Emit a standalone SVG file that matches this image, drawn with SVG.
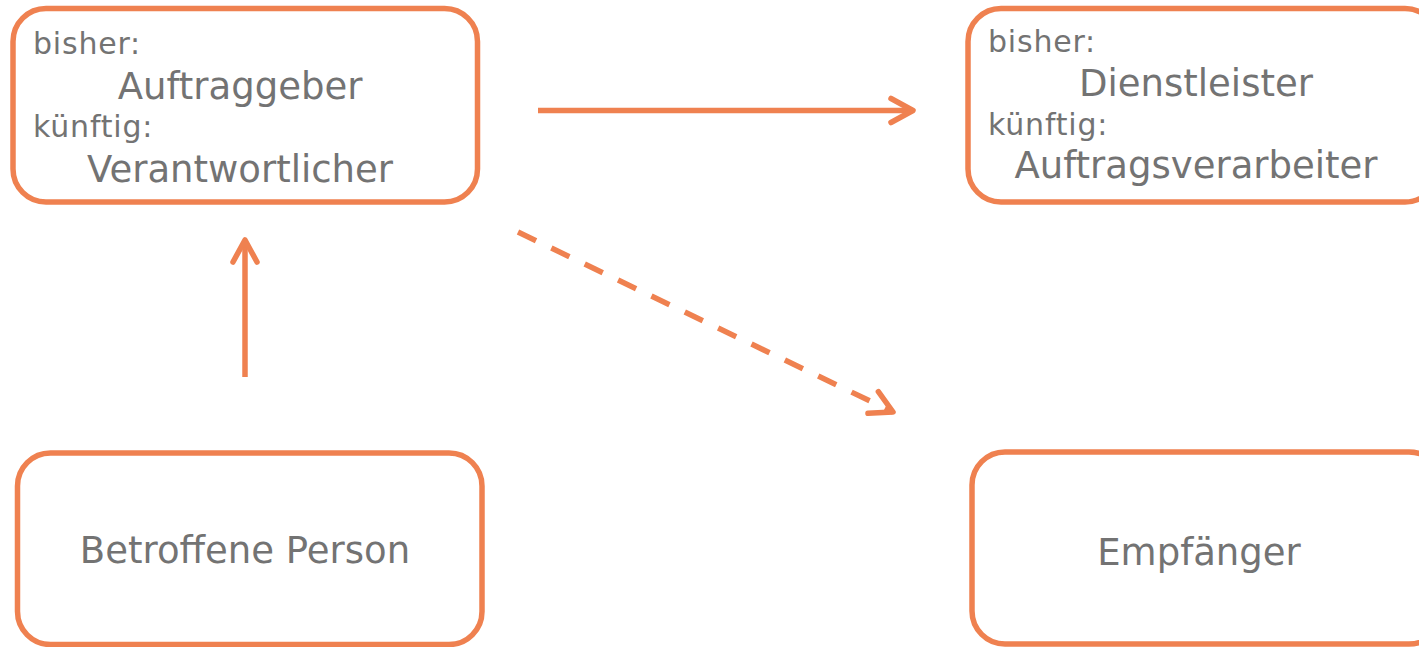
<svg xmlns="http://www.w3.org/2000/svg" width="1419" height="647" viewBox="0 0 1419 647">
<style>
.box{fill:#fff;stroke:#EF8150;stroke-width:5.5}
.t{font-family:"DejaVu Sans","Verdana",sans-serif;fill:#737373}
.s{font-size:30px;letter-spacing:0.8px}
.l{font-size:37px;text-anchor:middle}
.c{fill:none;stroke:#EF8150;stroke-width:5.5}
</style>
<defs>
<marker id="arr" markerUnits="userSpaceOnUse" orient="auto" refX="0" refY="0" markerWidth="40" markerHeight="40" overflow="visible">
<path d="M-22,-12 L0,0 L-22,12" fill="none" stroke="#EF8150" stroke-width="5.5" stroke-linecap="round" stroke-linejoin="round"/>
</marker>
</defs>
<rect width="1419" height="647" fill="#fff"/>
<g id="node-verantwortlicher">
<rect class="box" x="13" y="8.5" width="464.5" height="193.5" rx="33"/>
<text class="t s" x="33" y="54">bisher:</text>
<text class="t l" x="240" y="99">Auftraggeber</text>
<text class="t s" x="33" y="137">künftig:</text>
<text class="t l" x="240" y="182">Verantwortlicher</text>
</g>
<g id="node-auftragsverarbeiter">
<rect class="box" x="968" y="8.5" width="470" height="193.5" rx="33"/>
<text class="t s" x="988" y="52">bisher:</text>
<text class="t l" x="1196" y="96">Dienstleister</text>
<text class="t s" x="988" y="135">künftig:</text>
<text class="t l" x="1196" y="178">Auftragsverarbeiter</text>
</g>
<g id="node-betroffene">
<rect class="box" x="17.5" y="453" width="464.5" height="191.5" rx="33"/>
<text class="t l" x="245" y="563">Betroffene Person</text>
</g>
<g id="node-empfaenger">
<rect class="box" x="972" y="452" width="470" height="192" rx="33"/>
<text class="t l" x="1199" y="565">Empfänger</text>
</g>
<g id="connectors">
<line class="c" x1="538" y1="110.5" x2="913" y2="110.5" marker-end="url(#arr)"/>
<line class="c" x1="245" y1="377" x2="245" y2="240" marker-end="url(#arr)"/>
<line class="c" x1="518" y1="232" x2="893" y2="412" stroke-dasharray="20 17" marker-end="url(#arr)"/>
</g>
</svg>
